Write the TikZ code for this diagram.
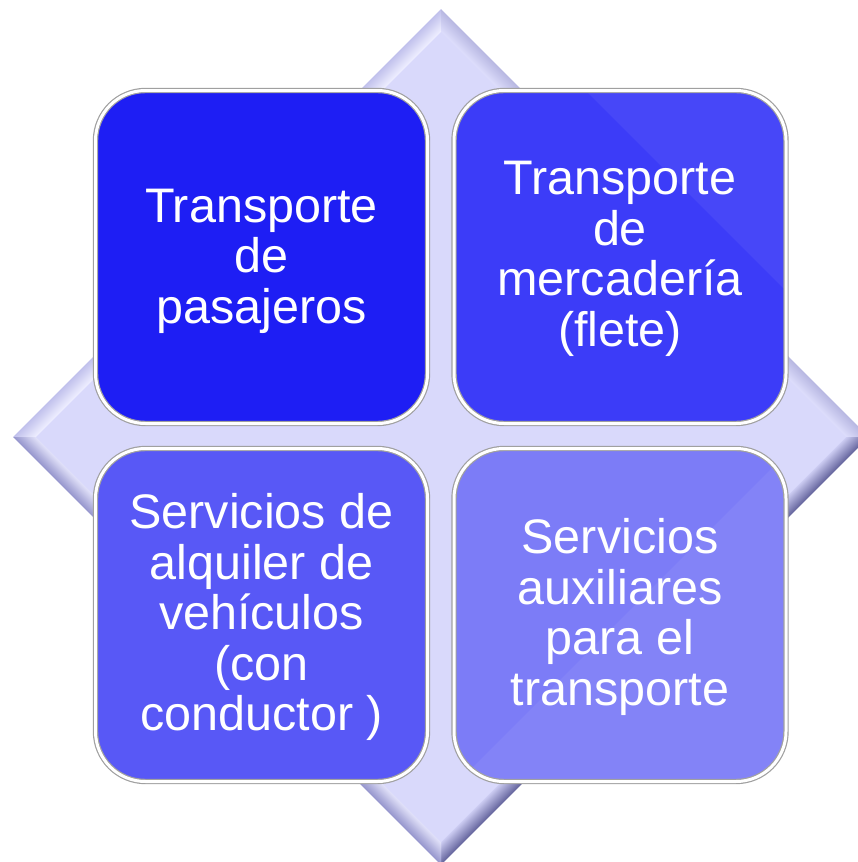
\documentclass[tikz,border=0pt]{standalone}
\usepackage{fontspec}
\setmainfont{Liberation Sans}
\definecolor{tlc}{RGB}{30,30,244}
\definecolor{trc}{RGB}{60,60,248}
\definecolor{blc}{RGB}{88,88,246}
\definecolor{brc}{RGB}{124,124,247}
\definecolor{dfill}{RGB}{217,217,251}
\definecolor{ulout}{RGB}{192,192,236}
\definecolor{ulin}{RGB}{238,238,255}
\definecolor{urout}{RGB}{184,184,226}
\definecolor{urin}{RGB}{222,222,252}
\definecolor{lrout}{RGB}{104,104,160}
\definecolor{lrin}{RGB}{206,206,244}
\definecolor{llout}{RGB}{150,150,206}
\definecolor{llin}{RGB}{226,226,250}
\definecolor{rimc}{RGB}{160,160,160}
\tikzset{
  quad box/.style={rounded corners=50pt, minimum width=332pt, minimum height=333pt,
    draw=rimc, double=white, double distance=3pt, line width=1.2pt, inner sep=0pt},
  quad text/.style={text=white, align=center, inner sep=0pt,
    font=\fontsize{48.5}{50.5}\selectfont},
  gloss/.style={fill=white, opacity=0.06},
}
\newcommand{\bevelside}[4]{% #1 tip A, #2 tip B (relative), #3 outer colour, #4 inner colour
  \begin{scope}
    \clip (441,437) -- ++#1 -- ++#2 -- cycle;
    \foreach \t in {0,...,22}{
      \pgfmathtruncatemacro{\p}{100-\t*100/22}
      \pgfmathsetmacro{\rr}{427-\t}
      \draw[line width=1.3pt, #3!\p!#4] (441,437-\rr) -- (441+\rr,437) -- (441,437+\rr) -- (441-\rr,437) -- cycle;
    }
  \end{scope}
}
\begin{document}
\begin{tikzpicture}[x=1pt,y=-1pt]
\useasboundingbox (0,0) rectangle (858,862);
% diamond bevels
\bevelside{(0,-440)}{(-440,440)}{ulout}{ulin}
\bevelside{(0,-440)}{(440,440)}{urout}{urin}
\bevelside{(0,440)}{(440,-440)}{lrout}{lrin}
\bevelside{(0,440)}{(-440,-440)}{llout}{llin}
% inner diamond
\fill[dfill] (441,437-405) -- (441+405,437) -- (441,437+405) -- (441-405,437) -- cycle;
% boxes
\node[quad box, fill=tlc] (tl) at (261.5,257) {};
\node[quad box, fill=trc] (tr) at (620,257) {};
\node[quad box, fill=blc] (bl) at (261.5,615) {};
\node[quad box, fill=brc] (br) at (620,615) {};
% subtle gloss
\begin{scope}
  \clip[rounded corners=48pt] ([xshift=3pt,yshift=-3pt]tr.north west) rectangle ([xshift=-3pt,yshift=3pt]tr.south east);
  \fill[gloss] (575,80) -- (800,80) -- (800,305) -- cycle;
\end{scope}
\begin{scope}
  \clip[rounded corners=48pt] ([xshift=3pt,yshift=-3pt]br.north west) rectangle ([xshift=-3pt,yshift=3pt]br.south east);
  \fill[gloss] (800,440) -- (800,800) -- (440,800) -- cycle;
\end{scope}
% texts
\node[quad text] (tlt) at ([yshift=-4pt]tl.center) {Transporte\\de\\pasajeros};
\node[quad text] (trt) at ([yshift=-2pt]tr.center) {Transporte\\de\\mercadería\\(flete)};
\node[quad text] (blt) at ([yshift=-2pt]bl.center) {Servicios de\\alquiler de\\vehículos\\(con\\conductor )};
\node[quad text] (brt) at ([yshift=-2pt]br.center) {Servicios\\auxiliares\\para el\\transporte};
\end{tikzpicture}
\end{document}
